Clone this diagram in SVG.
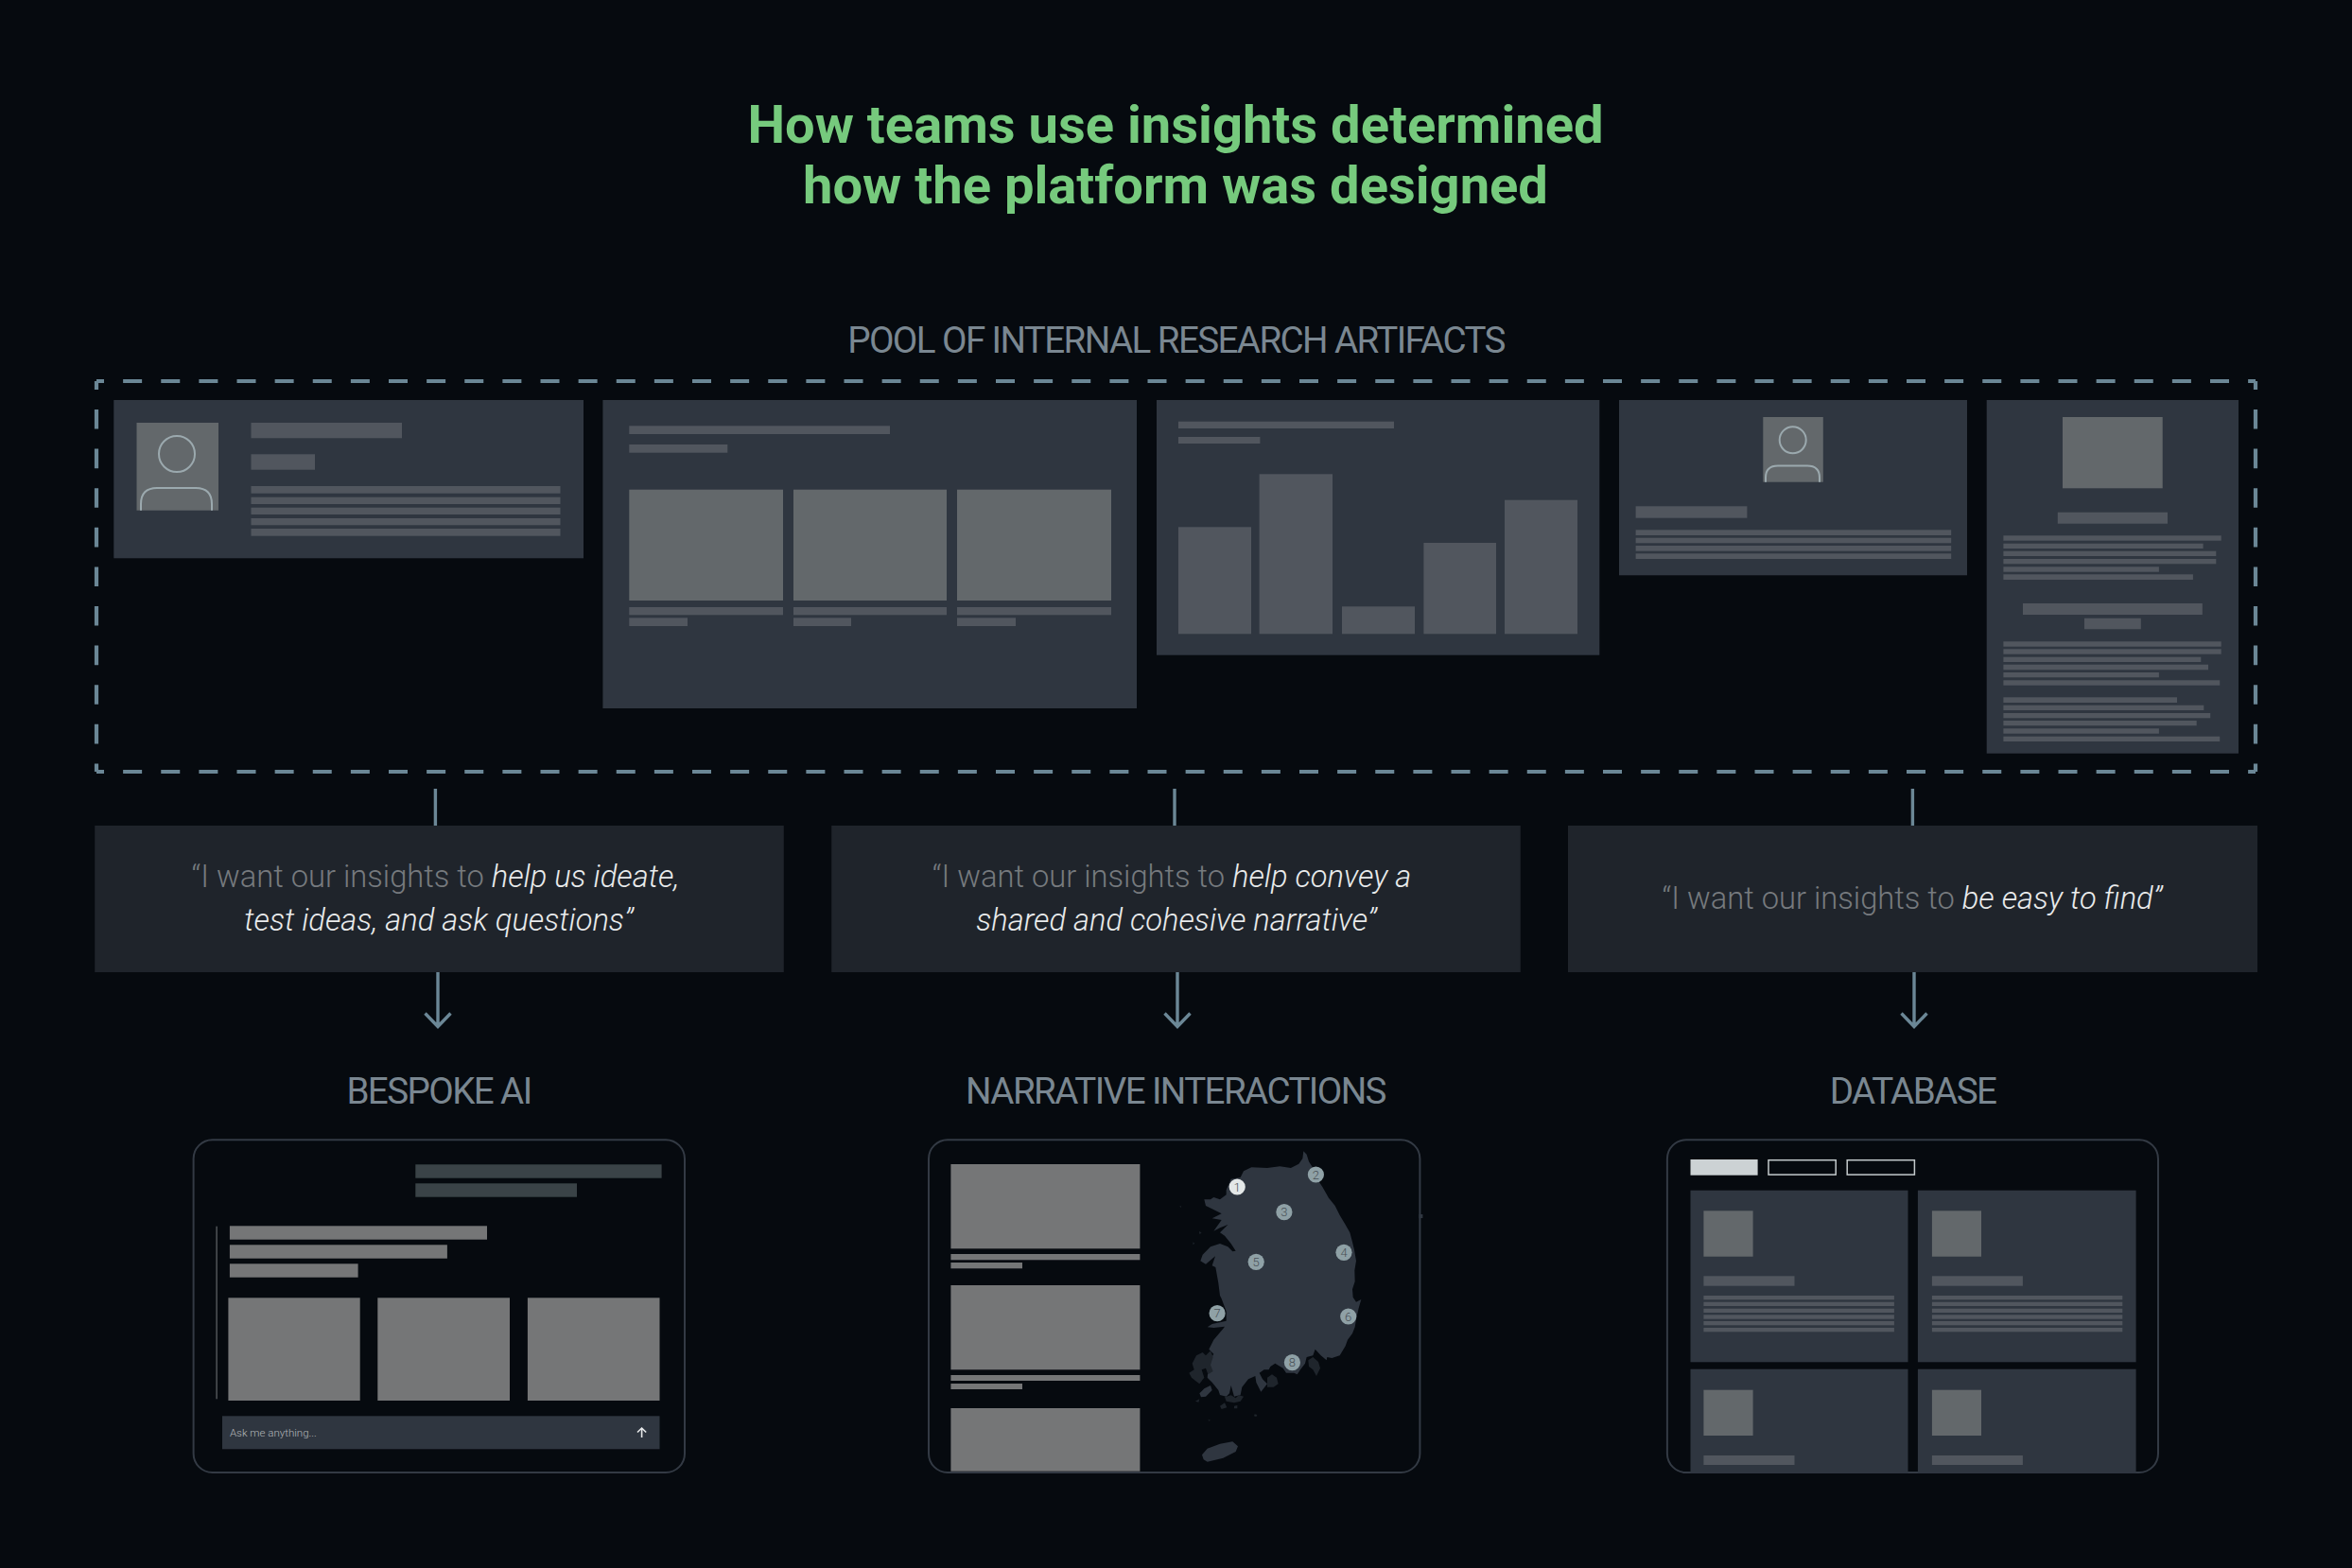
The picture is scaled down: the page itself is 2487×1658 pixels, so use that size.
<svg xmlns="http://www.w3.org/2000/svg" width="2487" height="1658" viewBox="0 0 2487 1658">
<defs>
<style>
text{font-family:Roboto,"Liberation Sans",sans-serif}
.title{font-size:56.1px;font-weight:700;fill:#76ca7d;text-anchor:middle}
.label{font-size:38.6px;font-weight:400;fill:#7a8791;text-anchor:middle;letter-spacing:-1.6px}
.quote{font-size:32.7px;font-weight:300;fill:#767a7e;text-anchor:middle}
.quote tspan{font-style:italic;fill:#e9ebec}
.card{fill:#2f3640}.mid{fill:#51565e}.img{fill:#63686b}.qbox{fill:#1f242b}
.grey{fill:#757677}.bubble{fill:#3a4347}
.frame{fill:#060a0f;stroke:#333a44;stroke-width:2}
.icon{fill:none;stroke:#9ba9ae;stroke-width:2}
.conn{fill:none;stroke:#6b8796;stroke-width:3.4}
.dash{fill:none;stroke:#6b8796;stroke-width:4.2}
.dot{fill:#8fa1a6}
.num{font-size:13px;font-weight:300;fill:#485056;text-anchor:middle}
</style>
</defs>
<rect width="2487" height="1658" fill="#060a0f"/>
<g id="heading">
<text class="title" x="1243" y="151">How teams use insights determined</text>
<text class="title" x="1243" y="215">how the platform was designed</text>
</g>
<g id="pool">
<text class="label" x="1243.500" y="372.500">POOL OF INTERNAL RESEARCH ARTIFACTS</text>
<g class="dash">
<path d="M102 403H2385" stroke-dasharray="20 20.125" stroke-dashoffset="12"/>
<path d="M102 816H2385" stroke-dasharray="20 20.125" stroke-dashoffset="12"/>
<path d="M102 403V816" stroke-dasharray="20.6 21" stroke-dashoffset="11.6"/>
<path d="M2385 403V816" stroke-dasharray="20.6 21" stroke-dashoffset="11.6"/>
</g>
</g>
<g id="artifact-profile">
<rect class="card" x="120.300" y="423" width="496.700" height="167.300"/>
<rect class="img" x="144.500" y="447" width="86.500" height="92.700"/>
<circle class="icon" cx="187" cy="480" r="19"/>
<path class="icon" d="M149 539.700V533Q149 516 166 516H207Q224 516 224 533V539.700"/>
<rect class="mid" x="265.500" y="447" width="159.500" height="16.300"/>
<rect class="mid" x="265.500" y="480.300" width="67.500" height="16.400"/>
<rect class="mid" x="265.500" y="514" width="327" height="7.700"/>
<rect class="mid" x="265.500" y="525.700" width="327" height="7.300"/>
<rect class="mid" x="265.500" y="536.700" width="327" height="7.300"/>
<rect class="mid" x="265.500" y="548" width="327" height="7.300"/>
<rect class="mid" x="265.500" y="559" width="327" height="7.700"/>
</g>
<g id="artifact-gallery">
<rect class="card" x="637.400" y="423" width="564.600" height="326"/>
<rect class="mid" x="665.300" y="450.300" width="275.700" height="8.700"/>
<rect class="mid" x="665.300" y="470" width="104" height="8.700"/>
<rect class="img" x="665.300" y="517.700" width="162.700" height="117.300"/>
<rect class="img" x="839" y="517.700" width="162" height="117.300"/>
<rect class="img" x="1012" y="517.700" width="163" height="117.300"/>
<rect class="mid" x="665.300" y="642" width="162.700" height="8.300"/>
<rect class="mid" x="839" y="642" width="162" height="8.300"/>
<rect class="mid" x="1012" y="642" width="163" height="8.300"/>
<rect class="mid" x="665.300" y="653.300" width="61.700" height="8.700"/>
<rect class="mid" x="839" y="653.300" width="61" height="8.700"/>
<rect class="mid" x="1012" y="653.300" width="62" height="8.700"/>
</g>
<g id="artifact-chart">
<rect class="card" x="1223" y="423" width="468.300" height="269.700"/>
<rect class="mid" x="1246" y="445.700" width="228" height="7.300"/>
<rect class="mid" x="1246" y="462" width="86.400" height="7"/>
<rect class="mid" x="1246" y="557.300" width="77" height="113"/>
<rect class="mid" x="1331.600" y="501.300" width="77.400" height="169"/>
<rect class="mid" x="1419" y="641.300" width="77" height="29"/>
<rect class="mid" x="1505.400" y="574" width="76.600" height="96.300"/>
<rect class="mid" x="1591" y="528.700" width="77" height="141.600"/>
</g>
<g id="artifact-bio">
<rect class="card" x="1712" y="423" width="368" height="185.300"/>
<rect class="img" x="1864.300" y="441" width="63.500" height="68.700"/>
<circle class="icon" cx="1895.700" cy="465.300" r="14"/>
<path class="icon" d="M1867 509.700V505Q1867 492.500 1880 492.500H1911Q1924 492.500 1924 505V509.700"/>
<rect class="mid" x="1729.600" y="535.300" width="117.800" height="12.400"/>
<rect class="mid" x="1729.600" y="560.300" width="333.600" height="5.700"/>
<rect class="mid" x="1729.600" y="568.700" width="333.600" height="5.600"/>
<rect class="mid" x="1729.600" y="577" width="333.600" height="5.700"/>
<rect class="mid" x="1729.600" y="585.300" width="333.600" height="5.700"/>
</g>
<g id="artifact-document">
<rect class="card" x="2100.700" y="423" width="266.300" height="373.700"/>
<rect class="img" x="2181" y="441" width="105.700" height="75.300"/>
<rect class="mid" x="2175.800" y="541.700" width="116.200" height="12"/>
<rect class="mid" x="2118.400" y="566.300" width="230.300" height="5.400"/>
<rect class="mid" x="2118.400" y="574.700" width="211.200" height="5.300"/>
<rect class="mid" x="2118.400" y="582.700" width="224.900" height="5.300"/>
<rect class="mid" x="2118.400" y="591" width="224.900" height="5.300"/>
<rect class="mid" x="2118.400" y="599.300" width="164.500" height="5.400"/>
<rect class="mid" x="2118.400" y="607.300" width="200.500" height="5.700"/>
<rect class="mid" x="2139" y="638" width="189.800" height="12"/>
<rect class="mid" x="2204" y="653.700" width="59.800" height="11.600"/>
<rect class="mid" x="2118.400" y="678.300" width="230.300" height="5.400"/>
<rect class="mid" x="2118.400" y="686.300" width="230.300" height="5.400"/>
<rect class="mid" x="2118.400" y="694.700" width="208.900" height="5.300"/>
<rect class="mid" x="2118.400" y="702.700" width="216.600" height="5.600"/>
<rect class="mid" x="2118.400" y="711" width="164.500" height="5.300"/>
<rect class="mid" x="2118.400" y="719.300" width="228.800" height="5.400"/>
<rect class="mid" x="2118.400" y="737.300" width="183.600" height="5.700"/>
<rect class="mid" x="2118.400" y="745.700" width="211.900" height="5.300"/>
<rect class="mid" x="2118.400" y="754" width="218.800" height="5.300"/>
<rect class="mid" x="2118.400" y="762" width="204.300" height="5.300"/>
<rect class="mid" x="2118.400" y="770.300" width="164.500" height="5.400"/>
<rect class="mid" x="2118.400" y="778.700" width="228.800" height="5.300"/>
</g>
<g id="connectors" class="conn">
<path d="M460.400 834V873"/><path d="M1242 834V873"/><path d="M2022.400 834V873"/>
<path d="M463 1028V1085M449.500 1071.500L463 1085.500L476.500 1071.500"/>
<path d="M1245 1028V1085M1231.500 1071.500L1245 1085.500L1258.500 1071.500"/>
<path d="M2024 1028V1085M2010.500 1071.500L2024 1085.500L2037.500 1071.500"/>
</g>
<g id="quote-ideate">
<rect class="qbox" x="100.200" y="873" width="728.600" height="155"/>
<text class="quote" x="460.500" y="938">“I want our insights to <tspan>help us ideate,</tspan></text>
<text class="quote" x="464" y="984"><tspan>test ideas, and ask questions”</tspan></text>
</g>
<g id="quote-narrative">
<rect class="qbox" x="879.200" y="873" width="728.600" height="155"/>
<text class="quote" x="1239" y="938">“I want our insights to <tspan>help convey a</tspan></text>
<text class="quote" x="1244" y="984"><tspan>shared and cohesive narrative”</tspan></text>
</g>
<g id="quote-find">
<rect class="qbox" x="1658" y="873" width="729" height="155"/>
<text class="quote" x="2022" y="961">“I want our insights to <tspan>be easy to find”</tspan></text>
</g>
<g id="bespoke-ai">
<text class="label" x="464" y="1166.500">BESPOKE AI</text>
<rect class="frame" x="204.600" y="1205.300" width="519.400" height="351.700" rx="20"/>
<rect class="bubble" x="439.300" y="1231.300" width="260.300" height="14.400"/>
<rect class="bubble" x="439.300" y="1251.300" width="170.700" height="14.400"/>
<rect x="228.400" y="1296.700" width="1.400" height="182.600" fill="#555a5e"/>
<rect class="grey" x="242.900" y="1296.300" width="272.100" height="14.400"/>
<rect class="grey" x="242.900" y="1316.300" width="230" height="14.400"/>
<rect class="grey" x="242.900" y="1336.300" width="135.700" height="14.400"/>
<rect class="grey" x="241.400" y="1372.300" width="139.300" height="108.700"/>
<rect class="grey" x="399.300" y="1372.300" width="139.700" height="108.700"/>
<rect class="grey" x="557.900" y="1372.300" width="139.600" height="108.700"/>
<rect class="card" x="235" y="1497.300" width="462.500" height="35"/>
<text x="242.900" y="1519" font-size="11.500" font-weight="300" fill="#b4b7ba">Ask me anything...</text>
<path d="M678.600 1520V1510.500M674 1514.500L678.600 1510L683.200 1514.500" fill="none" stroke="#e6e8e9" stroke-width="1.600"/>
</g>
<g id="narrative-interactions">
<text class="label" x="1243" y="1166.500">NARRATIVE INTERACTIONS</text>
<rect class="frame" x="982" y="1205.300" width="519.400" height="351.700" rx="20"/>
<rect class="grey" x="1005.400" y="1231" width="200" height="89.300"/>
<rect class="grey" x="1005.400" y="1326" width="200" height="6.300"/>
<rect class="grey" x="1005.400" y="1335" width="75.600" height="6.300"/>
<rect class="grey" x="1005.400" y="1359" width="200" height="89.300"/>
<rect class="grey" x="1005.400" y="1454" width="200" height="6"/>
<rect class="grey" x="1005.400" y="1463" width="75.600" height="6"/>
<rect class="grey" x="1005.400" y="1489" width="200" height="66.700"/>
<g transform="translate(1240 1200) scale(.33333)" fill="#2f3640">
<path d="M415 52L425 62L432 85L445 105L455 135L475 165L495 200L515 225L530 255L548 285L562 310L570 340L576 365L582 400L577 430L578 465L570 490L572 515L582 530L598 522L590 550L583 580L578 610L570 630L555 650L548 670L530 700L505 708L490 705L488 715L470 700L452 680L445 700L425 705L420 725L405 745L395 760L385 755L360 755L350 740L325 725L310 735L305 745L290 745L275 755L285 775L300 790L280 815L265 785L262 765L240 775L220 800L215 825L195 830L185 795L180 820L170 830L150 825L145 810L125 785L110 770L115 720L130 695L115 680L130 650L160 615L165 608L130 612L110 610L125 600L170 590L170 560L155 520L150 510L145 470L136 420L125 415L135 385L105 410L88 400L95 380L120 355L150 345L175 355L190 370L200 368L185 345L165 320L150 310L175 285L150 295L130 305L155 270L125 265L155 250L125 235L105 225L100 205L120 205L130 198L150 205L170 190L170 175L185 140L215 135L225 115L250 103L300 105L340 100L375 105L400 92L412 75Z"/>
<path d="M85 820L100 805L120 795L125 810L105 830L90 832ZM93 1015L110 995L150 980L190 973L207 988L200 1005L160 1025L110 1037L98 1030Z"/>
</g>
<g transform="translate(1240 1200) scale(.33333)" fill="#1f252c">
<path d="M75 700L95 690L105 700L120 685L128 705L120 730L128 750L112 760L105 740L92 745L100 770L85 790L72 780L60 770L52 755L68 745L62 725ZM150 860L165 850L172 865L155 870ZM195 860L205 858L205 868L195 868ZM260 886L268 888L265 894L258 892ZM72 845L85 838L82 848ZM112 903L120 905L116 908ZM430 715L445 705L462 720L468 740L456 765L445 745L432 735ZM165 832L185 826L200 835L210 825L225 830L215 845L195 850L170 845ZM300 770L315 760L330 770L335 790L320 800L300 800ZM22 226L27 226L26 231ZM85 305L92 312L84 314ZM65 340L70 345L64 348Z"/>
</g>
<rect x="1500.400" y="1284" width="4" height="4" fill="#2f3640"/>
<circle cx="1308.200" cy="1255" r="8.600" fill="#e4e8e8"/>
<text class="num" x="1308.200" y="1259.700">1</text>
<circle class="dot" cx="1391.400" cy="1242" r="8.600"/><text class="num" x="1391.400" y="1246.700">2</text>
<circle class="dot" cx="1357.900" cy="1281.700" r="8.600"/><text class="num" x="1357.900" y="1286.400">3</text>
<circle class="dot" cx="1421" cy="1324.300" r="8.600"/><text class="num" x="1421" y="1329">4</text>
<circle class="dot" cx="1328.200" cy="1334.300" r="8.600"/><text class="num" x="1328.200" y="1339">5</text>
<circle class="dot" cx="1425.700" cy="1392" r="8.600"/><text class="num" x="1425.700" y="1396.700">6</text>
<circle class="dot" cx="1287.100" cy="1388.700" r="8.600"/><text class="num" x="1287.100" y="1393.400">7</text>
<circle class="dot" cx="1366.400" cy="1440.700" r="8.600"/><text class="num" x="1366.400" y="1445.400">8</text>
</g>
<g id="database">
<text class="label" x="2022.500" y="1166.500">DATABASE</text>
<rect class="frame" x="1762.900" y="1205.300" width="519.100" height="351.700" rx="20"/>
<rect x="1787.500" y="1226" width="71.100" height="16.700" fill="#ccd2d4"/>
<rect x="1870" y="1226.700" width="71.200" height="15.400" fill="none" stroke="#c4cacc" stroke-width="1.500"/>
<rect x="1953.200" y="1226.700" width="71.200" height="15.400" fill="none" stroke="#c4cacc" stroke-width="1.500"/>
<rect class="card" x="1787.500" y="1258.700" width="230" height="181.600"/>
<rect class="card" x="2027.900" y="1258.700" width="230.700" height="181.600"/>
<rect class="card" x="1787.500" y="1447.700" width="230" height="110"/>
<rect class="card" x="2027.900" y="1447.700" width="230.700" height="110"/>
<rect class="img" x="1801.400" y="1280.300" width="52.200" height="48.400"/>
<rect class="img" x="2042.900" y="1280.300" width="52.100" height="48.400"/>
<rect class="img" x="1801.400" y="1469.700" width="52.200" height="48.300"/>
<rect class="img" x="2042.900" y="1469.700" width="52.100" height="48.300"/>
<rect class="mid" x="1801.400" y="1349.300" width="96.100" height="10.400"/>
<rect class="mid" x="2042.900" y="1349.300" width="96" height="10.400"/>
<rect class="mid" x="1801.400" y="1539" width="96.100" height="10"/>
<rect class="mid" x="2042.900" y="1539" width="96" height="10"/>
<rect class="mid" x="1801.400" y="1370" width="201.500" height="4.300"/>
<rect class="mid" x="1801.400" y="1376.700" width="201.500" height="4.300"/>
<rect class="mid" x="1801.400" y="1383.700" width="201.500" height="4.300"/>
<rect class="mid" x="1801.400" y="1390.300" width="201.500" height="4.400"/>
<rect class="mid" x="1801.400" y="1397" width="201.500" height="4.300"/>
<rect class="mid" x="1801.400" y="1404" width="201.500" height="4.300"/>
<rect class="mid" x="2042.900" y="1370" width="201.400" height="4.300"/>
<rect class="mid" x="2042.900" y="1376.700" width="201.400" height="4.300"/>
<rect class="mid" x="2042.900" y="1383.700" width="201.400" height="4.300"/>
<rect class="mid" x="2042.900" y="1390.300" width="201.400" height="4.400"/>
<rect class="mid" x="2042.900" y="1397" width="201.400" height="4.300"/>
<rect class="mid" x="2042.900" y="1404" width="201.400" height="4.300"/>
</g>
</svg>
